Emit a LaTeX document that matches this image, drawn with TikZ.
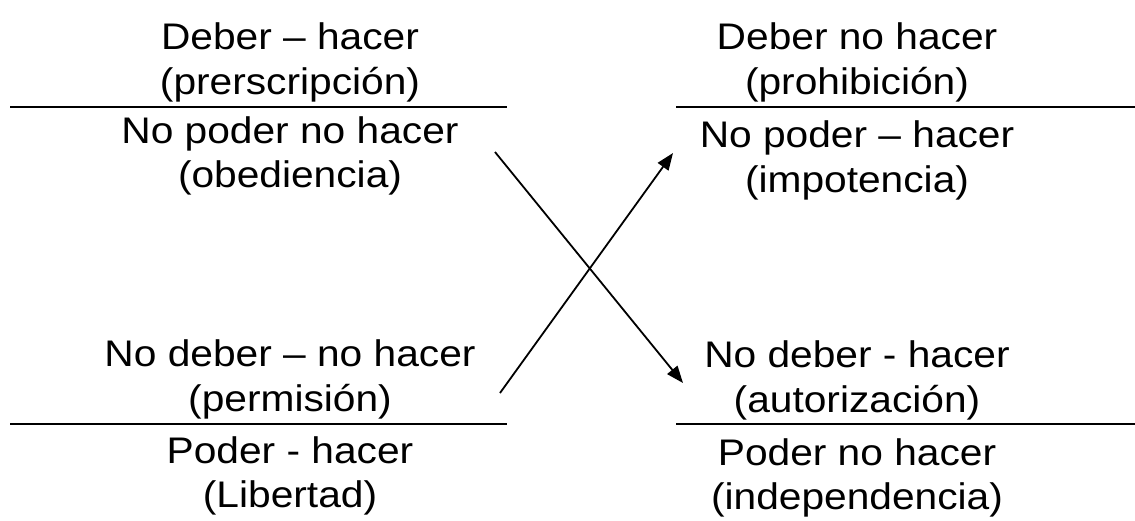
\documentclass[tikz,border=0pt]{standalone}
\usepackage{fontspec}
\setmainfont[FakeStretch=1.1]{Liberation Sans}
\usetikzlibrary{arrows.meta}
\tikzset{
  lbl/.style={anchor=base, inner sep=0pt, font=\fontsize{37}{41}\selectfont},
  sepline/.style={line width=1.8pt},
  arr/.style={line width=1.8pt, -{Triangle[length=17pt,width=13pt]}}
}
\begin{document}
\begin{tikzpicture}[x=1pt,y=-1pt]
\useasboundingbox (0,0) rectangle (1135,520);
% top left
\node[lbl] (tl1) at (290,49) {Deber – hacer};
\node[lbl] (tl2) at (290,94) {(prerscripción)};
\node[lbl] (tl3) at (290,143) {No poder no hacer};
\node[lbl] (tl4) at (290,187) {(obediencia)};
% top right
\node[lbl] (tr1) at (857,49) {Deber no hacer};
\node[lbl] (tr2) at (857,94) {(prohibición)};
\node[lbl] (tr3) at (857,147) {No poder – hacer};
\node[lbl] (tr4) at (857,192) {(impotencia)};
% bottom left
\node[lbl] (bl1) at (290,366) {No deber – no hacer};
\node[lbl] (bl2) at (290,411) {(permisión)};
\node[lbl] (bl3) at (290,463) {Poder - hacer};
\node[lbl] (bl4) at (290,507) {(Libertad)};
% bottom right
\node[lbl] (br1) at (857,367) {No deber - hacer};
\node[lbl] (br2) at (857,412) {(autorización)};
\node[lbl] (br3) at (857,465) {Poder no hacer};
\node[lbl] (br4) at (857,509) {(independencia)};
% separator lines
\coordinate (tlA) at (10,107);  \coordinate (tlB) at (507,107);
\coordinate (trA) at (676,107); \coordinate (trB) at (1135,107);
\coordinate (blA) at (10,424);  \coordinate (blB) at (507,424);
\coordinate (brA) at (676,424); \coordinate (brB) at (1135,424);
\draw[sepline] (tlA) -- (tlB);
\draw[sepline] (trA) -- (trB);
\draw[sepline] (blA) -- (blB);
\draw[sepline] (brA) -- (brB);
% arrows
\coordinate (a1s) at (495,152); \coordinate (a1e) at (683,383);
\coordinate (a2s) at (500,393); \coordinate (a2e) at (673,153);
\draw[arr] (a1s) -- (a1e);
\draw[arr] (a2s) -- (a2e);
\end{tikzpicture}
\end{document}
